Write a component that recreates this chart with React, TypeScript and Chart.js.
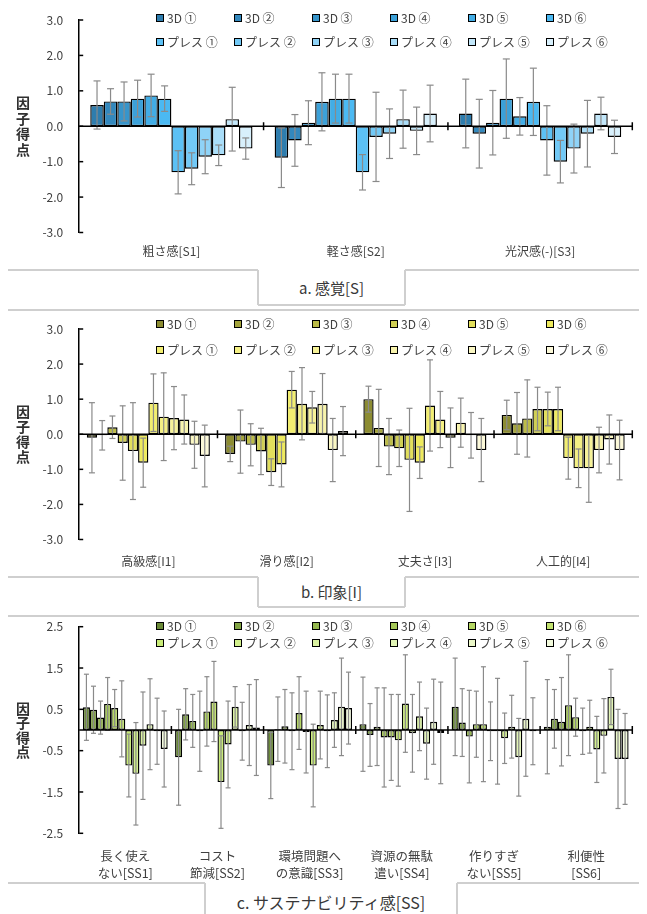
import React, { useEffect, useRef } from "react";
import { Chart, registerables } from "chart.js";
Chart.register(...registerables);

const FONT = "'Noto Sans CJK JP', 'Noto Sans', sans-serif";

const SERIES = ["3D ①", "3D ②", "3D ③", "3D ④", "3D ⑤", "3D ⑥", "プレス ①", "プレス ②", "プレス ③", "プレス ④", "プレス ⑤", "プレス ⑥"];

const COLORS_A = ["#2e7dae", "#3388bd", "#3795cb", "#3ca1d9", "#42ade6", "#4bb9f2", "#5cc1f5", "#72c9f6", "#8fd3f7", "#a9ddf8", "#c2e7fa", "#d8f0fc"];
const COLORS_B = ["#8c8c32", "#a4a43c", "#bcbc48", "#d0cf54", "#e2df5c", "#eeea5e", "#f2ee70", "#f4f084", "#f6f298", "#f8f4ad", "#faf7c3", "#fcf9d9"];
const COLORS_C = ["#6b8a38", "#82a444", "#95b84e", "#a5c858", "#b4d662", "#c2e270", "#c9ec78", "#d2f08c", "#daf2a2", "#e2f5b6", "#eaf7c8", "#f2fadc"];

// a. 感覚[S]
const CATS_A = ["粗さ感[S1]", "軽さ感[S2]", "光沢感(-)[S3]"];
const MEAN_S1 = [0.60, 0.70, 0.70, 0.78, 0.87, 0.78, -1.30, -1.20, -0.86, -0.82, 0.20, -0.63];
const SD_S1 = [0.68, 0.36, 0.55, 0.52, 0.60, 0.36, 0.61, 0.45, 0.48, 0.29, 0.90, 0.30];
const MEAN_S2 = [-0.89, -0.40, 0.10, 0.69, 0.78, 0.78, -1.30, -0.30, -0.21, 0.20, -0.13, 0.36];
const SD_S2 = [0.84, 0.73, 0.62, 0.82, 0.69, 0.69, 0.50, 1.26, 0.70, 0.82, 0.67, 0.80];
const MEAN_S3 = [0.36, -0.21, 0.10, 0.78, 0.28, 0.69, -0.40, -1.00, -0.63, -0.21, 0.36, -0.30];
const SD_S3 = [0.97, 0.97, 0.91, 1.12, 0.53, 0.95, 0.98, 0.60, 0.69, 0.94, 0.46, 0.47];

// b. 印象[I]
const CATS_B = ["高級感[I1]", "滑り感[I2]", "丈夫さ[I3]", "人工的[I4]"];
const MEAN_I1 = [-0.10, -0.03, 0.20, -0.25, -0.48, -0.81, 0.90, 0.50, 0.46, 0.42, -0.30, -0.62];
const SD_I1 = [1.00, 0.42, 0.32, 1.06, 1.38, 0.70, 0.82, 1.25, 0.90, 0.70, 0.67, 0.88];
const MEAN_I2 = [-0.56, -0.21, -0.30, -0.49, -1.08, -0.86, 1.27, 0.87, 0.77, 0.87, -0.45, 0.09];
const SD_I2 = [0.22, 0.90, 0.60, 0.66, 0.38, 0.64, 0.52, 1.03, 0.45, 0.86, 0.90, 0.70];
const MEAN_I3 = [1.00, 0.18, -0.35, -0.40, -0.73, -0.81, 0.82, 0.42, -0.10, 0.33, -0.03, -0.45];
const SD_I3 = [0.37, 1.10, 0.80, 0.52, 1.47, 0.45, 1.30, 0.80, 0.85, 0.70, 0.65, 0.90];
const MEAN_I4 = [0.55, 0.31, 0.45, 0.72, 0.72, 0.72, -0.68, -0.97, -0.97, -0.45, -0.15, -0.45];
const SD_I4 = [0.42, 0.88, 1.10, 0.62, 0.48, 0.62, 0.60, 0.55, 0.97, 0.65, 0.70, 0.85];

// c. サステナビリティ感[SS]
const CATS_C = [["長く使え", "ない[SS1]"], ["コスト", "節減[SS2]"], ["環境問題へ", "の意識[SS3]"], ["資源の無駄", "遣い[SS4]"], ["作りすぎ", "ない[SS5]"], ["利便性", "[SS6]"]];
const MEAN_SS1 = [0.55, 0.49, 0.30, 0.63, 0.53, 0.27, -0.86, -1.06, -0.38, 0.14, -0.03, -0.46];
const SD_SS1 = [0.80, 0.57, 0.40, 0.64, 0.45, 0.92, 0.76, 1.24, 1.30, 1.10, 0.80, 0.92];
const MEAN_SS2 = [-0.66, 0.38, 0.22, -0.03, 0.45, 0.69, -1.26, -0.35, 0.56, -0.03, 0.12, 0.06];
const SD_SS2 = [1.16, 0.62, 0.64, 0.97, 0.84, 0.97, 1.12, 1.05, 0.49, 0.70, 0.98, 1.16];
const MEAN_SS3 = [-0.86, 0.02, 0.09, -0.03, 0.41, -0.05, -0.86, 0.12, -0.03, 0.24, 0.56, 0.53];
const SD_SS3 = [0.80, 0.78, 0.89, 0.93, 0.88, 0.99, 1.00, 0.82, 0.88, 0.66, 1.18, 0.87];
const MEAN_SS4 = [0.14, -0.12, 0.08, -0.18, -0.18, -0.25, 0.64, -0.08, 0.33, -0.33, 0.20, -0.07];
const SD_SS4 = [1.14, 0.76, 0.94, 1.20, 1.04, 1.11, 1.18, 0.94, 0.83, 0.86, 1.03, 1.23];
const MEAN_SS5 = [0.56, 0.18, -0.16, 0.14, 0.14, -0.03, -0.03, -0.20, 0.08, -0.66, 0.27, -0.03];
const SD_SS5 = [1.18, 0.82, 1.12, 0.80, 1.39, 0.71, 1.28, 0.61, 0.76, 0.94, 1.39, 0.81];
const MEAN_SS6 = [0.08, 0.27, 0.20, 0.60, 0.31, -0.03, 0.08, -0.47, -0.14, 0.80, -0.70, -0.70];
const SD_SS6 = [1.14, 0.71, 1.07, 1.22, 0.46, 0.56, 0.64, 0.80, 0.90, 0.67, 1.20, 1.10];

const Y_TITLE = "因子得点";

const decorPlugin = {
  id: "panelDecor",
  afterDatasetsDraw(chart: any, _a: any, opts: any) {
    const ctx = chart.ctx;
    const xs = chart.scales.x;
    const ys = chart.scales.y;
    const area = chart.chartArea;
    const line = (x1: number, y1: number, x2: number, y2: number) => {
      ctx.beginPath();
      ctx.moveTo(x1, y1);
      ctx.lineTo(x2, y2);
      ctx.stroke();
    };
    ctx.save();
    // error bars
    ctx.strokeStyle = "#8a8a8a";
    ctx.lineWidth = 1.2;
    chart.data.datasets.forEach((ds: any, i: number) => {
      const meta = chart.getDatasetMeta(i);
      meta.data.forEach((el: any, j: number) => {
        const v = ds.data[j];
        const e = ds.errors[j];
        const cx = el.x;
        const yt = ys.getPixelForValue(v + e);
        const yb = ys.getPixelForValue(v - e);
        line(cx, yt, cx, yb);
        line(cx - opts.cap, yt, cx + opts.cap, yt);
        line(cx - opts.cap, yb, cx + opts.cap, yb);
      });
    });
    // zero axis
    const y0 = ys.getPixelForValue(0);
    ctx.strokeStyle = "#000";
    ctx.lineWidth = 1.5;
    line(area.left, y0, area.right, y0);
    const n = chart.data.labels.length;
    for (let k = 1; k <= n; k++) {
      const bx = xs.left + (xs.width * k) / n;
      line(bx, y0 - 4, bx, y0 + 4);
    }
    // inside y ticks
    ys.ticks.forEach((t: any) => {
      const py = ys.getPixelForValue(t.value);
      line(area.left, py, area.left + 4, py);
    });
    ctx.restore();
  },
  afterDraw(chart: any, _a: any, opts: any) {
    const ctx = chart.ctx;
    const area = chart.chartArea;
    ctx.save();
    // legend grid
    ctx.font = `12px ${FONT}`;
    ctx.textBaseline = "middle";
    ctx.textAlign = "left";
    chart.data.datasets.forEach((ds: any, i: number) => {
      const col = i % 6;
      const row = Math.floor(i / 6);
      const bx = Math.round(area.left + opts.legendX + col * opts.legendCol);
      const by = Math.round(area.top + opts.legendRows[row]);
      ctx.fillStyle = ds.backgroundColor;
      ctx.fillRect(bx, by - 4, 8, 8);
      ctx.strokeStyle = "#000";
      ctx.lineWidth = 1;
      ctx.strokeRect(bx + 0.5, by - 3.5, 7, 7);
      ctx.fillStyle = "#404040";
      ctx.fillText(ds.label, bx + 11, by + 0.5);
    });
    // stacked y title
    ctx.font = `bold 14px ${FONT}`;
    ctx.fillStyle = "#303030";
    ctx.textAlign = "center";
    const chars = Array.from(Y_TITLE);
    const mid = (area.top + area.bottom) / 2;
    const step = opts.titleStep;
    chars.forEach((c, k) => {
      ctx.fillText(c, 15, mid + (k - (chars.length - 1) / 2) * step);
    });
    ctx.restore();
  },
};

type PanelProps = {
  top: number;
  height: number;
  cats: any[];
  means: number[][];
  sds: number[][];
  colors: string[];
  yMin: number;
  yMax: number;
  padTop: number;
  chartBottom: number;
  labelPad: number;
  labelSize: number;
  legendRows: number[];
  catPct: number;
  cap: number;
  titleStep: number;
};

const W = 631;
const LEFT = 71.2;
const RIGHT = 624.3;

function Panel(p: PanelProps) {
  const ref = useRef<HTMLCanvasElement | null>(null);
  useEffect(() => {
    if (!ref.current) return;
    const datasets = SERIES.map((name, s) => ({
      label: name,
      data: p.means.map((m) => m[s]),
      errors: p.sds.map((d) => d[s]),
      backgroundColor: p.colors[s],
      borderColor: "#000000",
      borderWidth: 1.4,
      borderSkipped: false,
      inflateAmount: 0,
      barPercentage: 1,
      categoryPercentage: p.catPct,
    }));
    const zeroPad = (s: any) => {
      s.paddingTop = 0;
      s.paddingBottom = 0;
      s.paddingLeft = 0;
      s.paddingRight = 0;
    };
    const chart = new Chart(ref.current, {
      type: "bar",
      data: { labels: p.cats, datasets: datasets as any },
      options: {
        responsive: false,
        maintainAspectRatio: false,
        animation: false,
        devicePixelRatio: 1,
        layout: { padding: { top: p.padTop, left: 0, right: W - RIGHT, bottom: 0 } },
        plugins: {
          legend: { display: false },
          tooltip: { enabled: false },
          panelDecor: {
            cap: p.cap,
            legendX: 77,
            legendCol: 78,
            legendRows: p.legendRows,
            titleStep: p.titleStep,
          },
        } as any,
        scales: {
          x: {
            type: "category",
            offset: true,
            grid: { display: false, drawTicks: false },
            border: { display: false },
            ticks: {
              color: "#404040",
              font: { family: FONT, size: p.labelSize, lineHeight: 1.35 },
              padding: p.labelPad,
              maxRotation: 0,
              autoSkip: false,
            },
            afterFit: (s: any) => {
              s.height = p.height - p.chartBottom;
              zeroPad(s);
            },
          },
          y: {
            min: p.yMin,
            max: p.yMax,
            grid: { display: false, drawTicks: false },
            border: { display: true, color: "#000", width: 1.5 },
            ticks: {
              stepSize: 1,
              color: "#404040",
              font: { family: FONT, size: 12 },
              padding: 16,
              callback: (v: any) => Number(v).toFixed(1),
            },
            afterFit: (s: any) => {
              s.width = LEFT;
              zeroPad(s);
            },
          },
        },
      } as any,
      plugins: [decorPlugin],
    });
    return () => chart.destroy();
  }, []);
  return (
    <canvas
      ref={ref}
      width={W}
      height={p.height}
      style={{ position: "absolute", left: 0, top: p.top, width: W, height: p.height }}
    />
  );
}

const LINE = "#cfcfcf";
const LW = 2;

function HLine({ x1, x2, y }: { x1: number; x2: number; y: number }) {
  return <div style={{ position: "absolute", left: x1, top: y - LW / 2, width: x2 - x1, height: LW, background: LINE }} />;
}
function VLine({ x, y1, y2 }: { x: number; y1: number; y2: number }) {
  return <div style={{ position: "absolute", left: x - LW / 2, top: y1, width: LW, height: y2 - y1, background: LINE }} />;
}

function Tab({ y, x1, x2, bottom, text, textY, size }: { y: number; x1: number; x2: number; bottom: number; text: string; textY: number; size: number }) {
  return (
    <>
      <HLine x1={0} x2={x1} y={y} />
      <HLine x1={x2} x2={W} y={y} />
      <VLine x={x1} y1={y} y2={bottom} />
      <VLine x={x2} y1={y} y2={bottom} />
      <HLine x1={x1} x2={x2} y={bottom} />
      <div
        style={{
          position: "absolute",
          left: x1,
          width: x2 - x1,
          top: textY - size * 0.75,
          height: size * 1.5,
          lineHeight: `${size * 1.5}px`,
          textAlign: "center",
          fontFamily: FONT,
          fontSize: size,
          color: "#383838",
        }}
      >
        {text}
      </div>
    </>
  );
}

export default function App() {
  return (
    <div style={{ position: "relative", width: W, height: 906, overflow: "hidden", background: "#fff" }}>
      <Panel
        top={0}
        height={256}
        cats={CATS_A}
        means={[MEAN_S1, MEAN_S2, MEAN_S3]}
        sds={[SD_S1, SD_S2, SD_S3]}
        colors={COLORS_A}
        yMin={-3}
        yMax={3}
        padTop={12}
        chartBottom={224.5}
        labelPad={11}
        labelSize={12}
        legendRows={[-2, 22]}
        catPct={0.88}
        cap={3.5}
        titleStep={15.5}
      />
      <Tab y={262} x1={250} x2={397} bottom={297} text="a. 感覚[S]" textY={280} size={15} />
      <HLine x1={0} x2={W} y={302} />
      <Panel
        top={304}
        height={260}
        cats={CATS_B}
        means={[MEAN_I1, MEAN_I2, MEAN_I3, MEAN_I4]}
        sds={[SD_I1, SD_I2, SD_I3, SD_I4]}
        colors={COLORS_B}
        yMin={-3}
        yMax={3}
        padTop={17}
        chartBottom={227.5}
        labelPad={14}
        labelSize={12}
        legendRows={[-5.5, 20.5]}
        catPct={0.89}
        cap={3}
        titleStep={15}
      />
      <Tab y={568.7} x1={250} x2={397} bottom={598.7} text="b. 印象[I]" textY={584} size={15} />
      <HLine x1={0} x2={W} y={608} />
      <Panel
        top={610}
        height={264}
        cats={CATS_C}
        means={[MEAN_SS1, MEAN_SS2, MEAN_SS3, MEAN_SS4, MEAN_SS5, MEAN_SS6]}
        sds={[SD_SS1, SD_SS2, SD_SS3, SD_SS4, SD_SS5, SD_SS6]}
        colors={COLORS_C}
        yMin={-2.5}
        yMax={2.5}
        padTop={8.7}
        chartBottom={215.3}
        labelPad={15}
        labelSize={12.5}
        legendRows={[-0.7, 16.3]}
        catPct={0.92}
        cap={2.5}
        titleStep={14.5}
      />
      <Tab y={875.3} x1={197} x2={449} bottom={920} text="c. サステナビリティ感[SS]" textY={894} size={16} />
    </div>
  );
}
